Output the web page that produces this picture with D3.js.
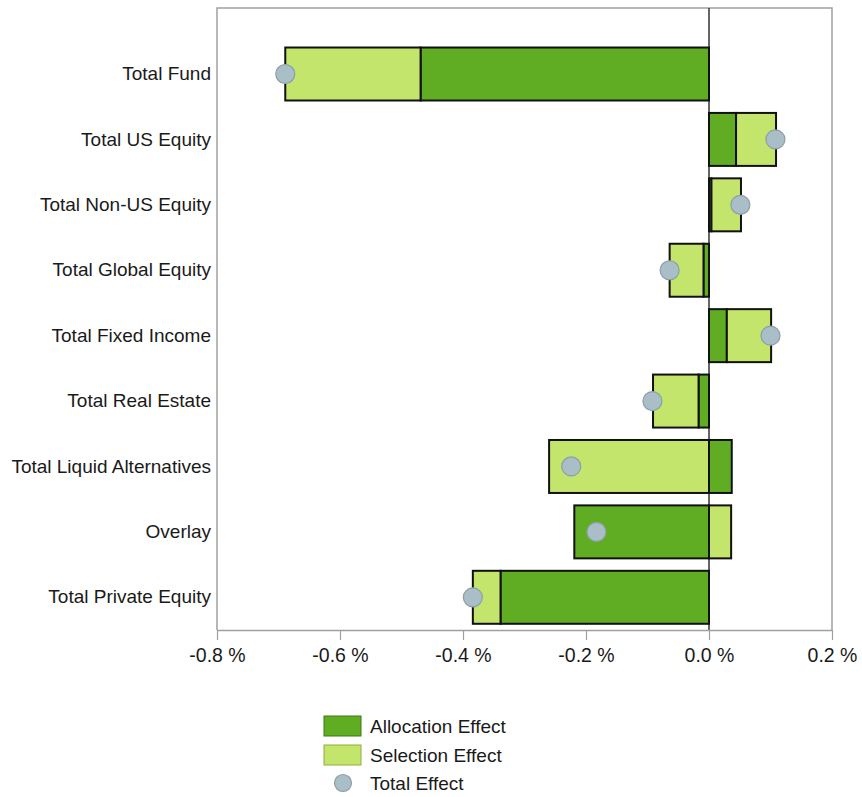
<!DOCTYPE html>
<html>
<head>
<meta charset="utf-8">
<script src="https://cdn.jsdelivr.net/npm/d3@7"></script>
<style>
  html, body { margin: 0; padding: 0; background: #ffffff; }
  svg { display: block; font-family: "Liberation Sans", Arial, sans-serif; }
</style>
</head>
<body>
<svg id="chart" width="862" height="797"></svg>
<script>
const categories = [
  "Total Fund", "Total US Equity", "Total Non-US Equity", "Total Global Equity",
  "Total Fixed Income", "Total Real Estate", "Total Liquid Alternatives",
  "Overlay", "Total Private Equity"
];
const allocationEffect = [-0.469, 0.044, 0.004, -0.009, 0.029, -0.017, 0.037, -0.219, -0.339];
const selectionEffect  = [-0.220, 0.065, 0.048, -0.055, 0.072, -0.074, -0.260, 0.036, -0.045];
const totalEffect      = [-0.689, 0.108, 0.051, -0.064, 0.100, -0.092, -0.224, -0.183, -0.384];
const xTicks = [-0.8, -0.6, -0.4, -0.2, 0.0, 0.2];
const xTickLabels = ["-0.8 %", "-0.6 %", "-0.4 %", "-0.2 %", "0.0 %", "0.2 %"];
const legendLabels = ["Allocation Effect", "Selection Effect", "Total Effect"];

const colAlloc = "#60ad24";
const colSel = "#c4e56c";
const colDot = "#a9bec7";
const colDotStroke = "#8b9fa8";

const svg = d3.select("#chart");
const pLeft = 217, pRight = 832, pTop = 8, pBottom = 630;

const x = d3.scaleLinear().domain([-0.8, 0.2]).range([pLeft, pRight]);
const y = d3.scaleBand().domain(categories).range([41.3, pBottom]).paddingInner(0.19).paddingOuter(0.095);

// frame
svg.append("path")
  .attr("d", `M${pLeft},${pBottom} V${pTop} H${pRight} V${pBottom}`)
  .attr("fill", "none").attr("stroke", "#a0a0a0").attr("stroke-width", 1.5);

// zero line
svg.append("line")
  .attr("x1", x(0)).attr("x2", x(0)).attr("y1", pTop).attr("y2", pBottom)
  .attr("stroke", "#333").attr("stroke-width", 1.5);

// x axis
const xAxis = d3.axisBottom(x).tickValues(xTicks).tickSize(10).tickSizeOuter(0)
  .tickFormat((d, i) => xTickLabels[i]);
const gx = svg.append("g").attr("transform", `translate(0,${pBottom})`).call(xAxis);
gx.select(".domain").attr("stroke", "#a0a0a0").attr("stroke-width", 1.5);
gx.selectAll(".tick line").attr("stroke", "#a0a0a0").attr("stroke-width", 1.2);
gx.selectAll(".tick text").attr("font-size", 19.5).attr("fill", "#1a1a1a").attr("dy", "0.95em")
  .attr("font-family", "Liberation Sans, Arial, sans-serif");

// y labels
const yAxis = d3.axisLeft(y).tickSize(0).tickPadding(6);
const gy = svg.append("g").attr("transform", `translate(${pLeft},0)`).call(yAxis);
gy.select(".domain").remove();
gy.selectAll(".tick text").attr("font-size", 19).attr("fill", "#1a1a1a")
  .attr("font-family", "Liberation Sans, Arial, sans-serif");

// segments
const segs = [];
categories.forEach((c, i) => {
  const a = allocationEffect[i], s = selectionEffect[i];
  segs.push({c, x0: 0, x1: a, fill: colAlloc});
  const sameSign = (a >= 0) === (s >= 0);
  const base = sameSign ? a : 0;
  segs.push({c, x0: base, x1: base + s, fill: colSel});
});

svg.append("g").selectAll("rect").data(segs).join("rect")
  .attr("x", d => x(Math.min(d.x0, d.x1)))
  .attr("width", d => Math.abs(x(d.x1) - x(d.x0)))
  .attr("y", d => y(d.c))
  .attr("height", y.bandwidth())
  .attr("fill", d => d.fill)
  .attr("stroke", "#111").attr("stroke-width", 2);

// total effect dots
svg.append("g").selectAll("circle").data(categories).join("circle")
  .attr("cx", (d, i) => x(totalEffect[i]))
  .attr("cy", d => y(d) + y.bandwidth() / 2)
  .attr("r", 9.5)
  .attr("fill", colDot).attr("stroke", colDotStroke).attr("stroke-width", 1.2);

// legend
const lg = svg.append("g");
const legendY = [726, 755, 783];
lg.append("rect").attr("x", 324).attr("y", legendY[0] - 10).attr("width", 37).attr("height", 20)
  .attr("fill", colAlloc).attr("stroke", "#3d7a12").attr("stroke-width", 1);
lg.append("rect").attr("x", 324).attr("y", legendY[1] - 10).attr("width", 37).attr("height", 20)
  .attr("fill", colSel).attr("stroke", "#8fae3a").attr("stroke-width", 1);
lg.append("circle").attr("cx", 343).attr("cy", legendY[2]).attr("r", 8.5)
  .attr("fill", colDot).attr("stroke", colDotStroke).attr("stroke-width", 1.2);
lg.selectAll("text").data(legendLabels).join("text")
  .attr("x", 370).attr("y", (d, i) => legendY[i]).attr("dy", "0.35em")
  .attr("font-size", 19).attr("fill", "#1a1a1a")
  .text(d => d);
</script>
</body>
</html>
